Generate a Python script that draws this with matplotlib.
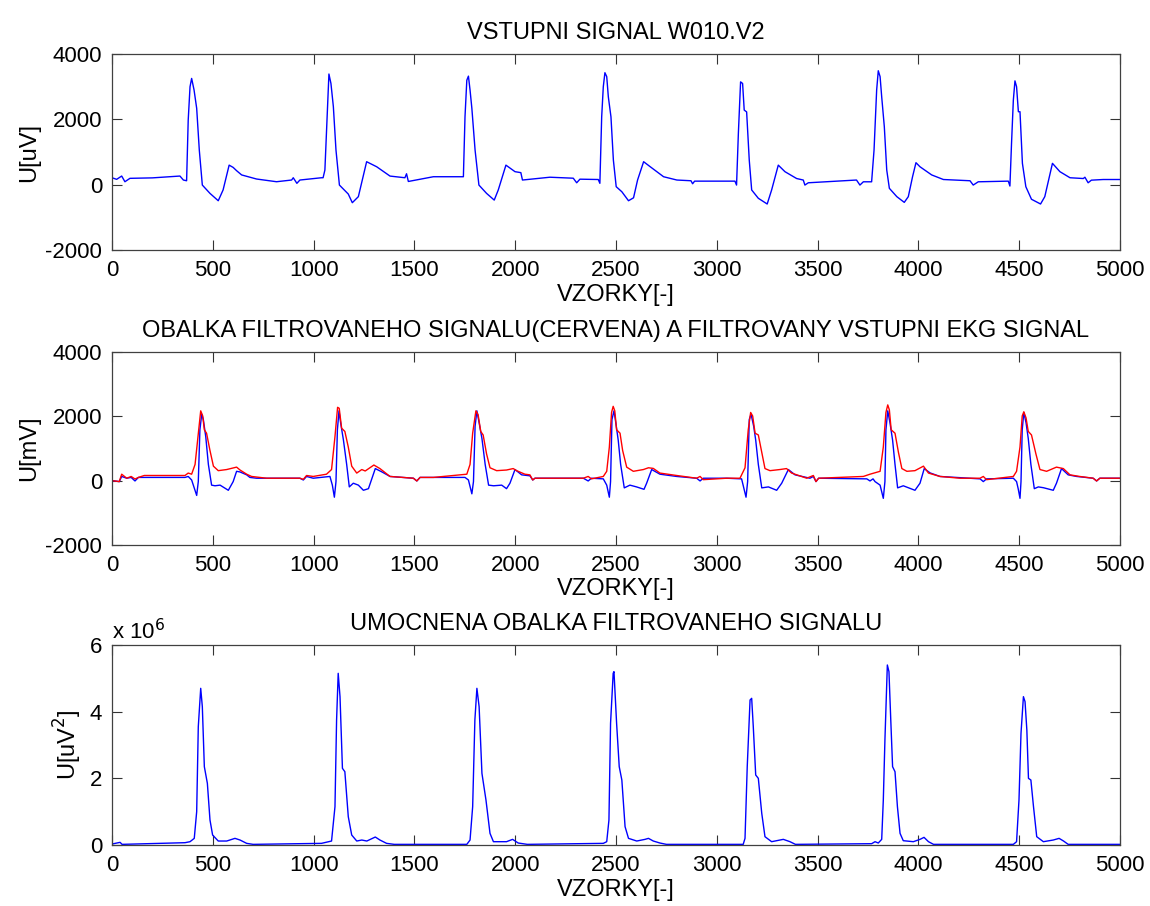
import numpy as np
import matplotlib
matplotlib.use("Agg")
import matplotlib.pyplot as plt

plt.rcParams['font.family'] = ['Liberation Sans', 'DejaVu Sans']
plt.rcParams['font.size'] = 16
plt.rcParams['axes.unicode_minus'] = False

# values (sample index, value)
# input ECG signal, uV
input_pts = [
    (0, 214), (23, 165), (48, 266), (64, 92), (89, 196), (200, 210), (337, 266), (354, 144), (370, 122),
    (378, 1980), (387, 3000), (395, 3255), (407, 2900), (420, 2340), (433, 1060), (448, -10), (486, -265),
    (527, -490), (551, -160), (581, 600), (601, 530), (618, 430), (643, 300), (676, 245), (717, 175),
    (816, 92), (891, 144), (899, 214), (917, 43), (932, 144), (1039, 214), (1047, 214),
    (1056, 450), (1064, 1620), (1076, 3390), (1086, 3100), (1098, 2390), (1111, 1060), (1128, -10),
    (1172, -285), (1192, -550), (1222, -365), (1263, 705), (1313, 550), (1379, 265), (1453, 214),
    (1461, 336), (1470, 100), (1594, 245), (1743, 245),
    (1751, 2080), (1760, 3200), (1768, 3325), (1776, 2900), (1785, 2340), (1801, 1060), (1820, -10),
    (1858, -265), (1896, -470), (1916, -160), (1954, 600), (1999, 400), (2028, 370), (2036, 144),
    (2172, 230), (2288, 200), (2305, 60), (2321, 170), (2412, 160),
    (2420, 43), (2429, 2080), (2437, 3000), (2445, 3430), (2454, 3310), (2462, 2690), (2475, 2080),
    (2487, 755), (2501, -60), (2529, -215), (2562, -490), (2587, -400), (2607, 144), (2637, 705),
    (2670, 550), (2736, 245), (2802, 144), (2872, 122), (2880, 30), (2890, 110), (3090, 110),
    (3098, -10), (3107, 1570), (3118, 3150), (3128, 3100), (3136, 2285), (3148, 2230), (3161, 755),
    (3173, -160), (3206, -415), (3250, -590), (3272, -160), (3305, 600), (3338, 400), (3396, 190),
    (3429, 144), (3437, -10), (3454, 60), (3693, 144), (3710, -10), (3727, 90), (3768, 90),
    (3780, 1060), (3793, 2900), (3801, 3490), (3810, 3310), (3818, 2690), (3831, 1775), (3843, 450),
    (3856, -110), (3893, -365), (3930, -540), (3950, -365), (3971, 245), (3988, 675), (4008, 550),
    (4066, 300), (4124, 160), (4256, 122), (4272, -10), (4297, 90), (4446, 110),
    (4454, -40), (4462, 1265), (4471, 2590), (4479, 3180), (4487, 3000), (4496, 2235), (4504, 2235),
    (4516, 655), (4533, -60), (4561, -445), (4606, -590), (4627, -365), (4665, 655), (4702, 400),
    (4752, 214), (4818, 190), (4826, 230), (4842, 60), (4858, 140), (4917, 160), (5000, 160),
]

# filtered ECG signal (blue, middle)
filt_pts = [
    (0, 0), (36, -30), (48, 130), (73, 75), (95, 100), (114, -10), (131, 100), (362, 100), (378, 130),
    (395, 20), (420, -460), (428, -30), (436, 1580), (445, 2065), (453, 1900), (465, 1365), (478, 505),
    (494, -140), (511, -160), (536, -140), (577, -300), (601, -30), (618, 290), (635, 270), (668, 180),
    (684, 100), (717, 75), (932, 75), (949, 20), (965, 130), (998, 75), (1081, 130),
    (1093, -140), (1103, -515), (1111, -30), (1118, 1580), (1126, 2170), (1134, 1800), (1148, 1260),
    (1164, 505), (1177, -195), (1197, -80), (1222, -140), (1247, -300), (1272, -250), (1306, 375),
    (1339, 270), (1379, 130), (1495, 75), (1512, -10), (1528, 100), (1594, 100), (1751, 100),
    (1768, 20), (1785, -410), (1793, -30), (1801, 1690), (1810, 2170), (1821, 1800), (1835, 1310),
    (1851, 505), (1868, -140), (1893, -160), (1933, -140), (1957, -250), (1974, -80), (1999, 345),
    (2032, 180), (2073, 150), (2087, 20), (2098, 75), (2123, 75), (2338, 75), (2362, -10), (2378, 75),
    (2437, 55),
    (2454, -140), (2467, -515), (2473, -30), (2480, 1900), (2490, 2170), (2499, 1800), (2511, 1260),
    (2523, 505), (2541, -225), (2569, -140), (2602, -195), (2639, -270), (2652, -80), (2677, 345),
    (2718, 200), (2801, 130), (2900, 75), (2917, -10), (2933, 75), (3049, 75), (3123, 55),
    (3135, -250), (3145, -515), (3153, -30), (3161, 1900), (3170, 2065), (3183, 1690), (3193, 1260),
    (3206, 505), (3223, -225), (3256, -195), (3297, -300), (3322, -80), (3355, 345), (3388, 180),
    (3462, 75), (3479, 130), (3492, -30), (3505, 75), (3744, 55), (3760, -10), (3775, 55), (3785, -30),
    (3810, -140), (3826, -550), (3834, -30), (3839, 1580), (3848, 2170), (3859, 1800), (3872, 1260),
    (3884, 505), (3897, -225), (3925, -160), (3983, -300), (4008, -80), (4029, 375), (4058, 240),
    (4107, 130), (4306, 55), (4322, -30), (4338, 55), (4471, 75), (4487, -30),
    (4495, -250), (4504, -550), (4509, -30), (4515, 1580), (4523, 2120), (4534, 1800), (4545, 1310),
    (4558, 505), (4575, -250), (4595, -195), (4620, -220), (4669, -300), (4685, -80), (4710, 375),
    (4743, 180), (4785, 130), (4867, 75), (4884, -10), (4900, 75), (5000, 75),
]

# envelope of filtered signal (red, middle)
env_pts = [
    (0, 0), (36, -30), (48, 200), (73, 75), (95, 130), (114, 50), (131, 100), (160, 160), (362, 160),
    (378, 235), (395, 200), (412, 505), (428, 1475), (440, 2170), (450, 2010), (458, 1580), (469, 1475),
    (486, 935), (503, 450), (527, 310), (569, 345), (618, 420), (635, 330), (668, 200), (692, 130),
    (767, 75), (932, 75), (949, 40), (965, 160), (998, 130), (1064, 200),
    (1089, 345), (1106, 1370), (1119, 2280), (1127, 2250), (1139, 1630), (1155, 1530), (1172, 1045),
    (1189, 450), (1214, 235), (1239, 345), (1256, 300), (1299, 485), (1329, 375), (1379, 130),
    (1495, 75), (1512, -10), (1528, 100), (1594, 100), (1760, 200),
    (1776, 505), (1789, 1475), (1805, 2170), (1816, 2050), (1829, 1530), (1841, 1420), (1858, 830),
    (1875, 400), (1908, 310), (1957, 330), (1990, 375), (2007, 310), (2048, 200), (2073, 180),
    (2087, 20), (2098, 75), (2123, 75), (2338, 75), (2362, 130), (2378, 55), (2437, 130),
    (2454, 290), (2467, 1045), (2478, 2120), (2486, 2310), (2494, 2170), (2503, 1580), (2520, 1475),
    (2533, 935), (2553, 420), (2586, 290), (2636, 345), (2661, 400), (2685, 380), (2718, 235),
    (2801, 160), (2900, 75), (2917, 130), (2933, 30), (3049, 75), (3115, 75),
    (3140, 400), (3156, 1580), (3168, 2120), (3178, 2010), (3190, 1475), (3206, 1420), (3223, 880),
    (3239, 375), (3264, 310), (3313, 345), (3346, 375), (3371, 235), (3446, 75), (3479, 160),
    (3492, -30), (3505, 75), (3727, 130), (3760, 200),
    (3810, 290), (3826, 1045), (3839, 2120), (3848, 2355), (3856, 2200), (3865, 1580), (3884, 1475),
    (3901, 880), (3918, 375), (3943, 290), (3983, 310), (4025, 450), (4050, 235), (4107, 130),
    (4206, 75), (4306, 75), (4322, 130), (4338, 30), (4471, 130),
    (4487, 290), (4504, 1045), (4515, 2010), (4523, 2140), (4534, 1950), (4545, 1530), (4561, 1420),
    (4583, 830), (4603, 345), (4636, 290), (4685, 420), (4719, 375), (4752, 180), (4800, 130),
    (4867, 75), (4884, -10), (4900, 75), (5000, 75),
]

# squared envelope, units of 1e6 uV^2
pow_pts = [
    (0, 0.03), (40, 0.08), (50, 0.02), (362, 0.07), (387, 0.1), (408, 0.2), (420, 1.0), (428, 3.55),
    (440, 4.7), (448, 4.15), (458, 2.35), (473, 1.85), (486, 0.75), (499, 0.3), (527, 0.12), (569, 0.12),
    (610, 0.2), (635, 0.15), (668, 0.05), (700, 0.02), (1039, 0.05),
    (1089, 0.12), (1106, 1.15), (1114, 3.75), (1122, 5.15), (1131, 4.45), (1143, 2.3), (1155, 2.2),
    (1172, 0.85), (1189, 0.3), (1214, 0.12), (1239, 0.15), (1264, 0.12), (1306, 0.24), (1329, 0.15),
    (1362, 0.05), (1400, 0.02),
    (1760, 0.02), (1776, 0.15), (1789, 1.15), (1800, 3.75), (1810, 4.7), (1821, 4.15), (1835, 2.15),
    (1855, 1.35), (1875, 0.35), (1892, 0.1), (1957, 0.1), (1987, 0.17), (2015, 0.06), (2060, 0.02),
    (2437, 0.05), (2454, 0.1), (2465, 0.75), (2473, 3.65), (2486, 5.15), (2490, 5.2), (2503, 3.65),
    (2516, 2.35), (2529, 1.95), (2545, 0.55), (2562, 0.2), (2603, 0.12), (2644, 0.17), (2661, 0.2),
    (2685, 0.12), (2718, 0.06), (2750, 0.02),
    (3131, 0.02), (3140, 0.2), (3151, 2.35), (3165, 4.35), (3173, 4.4), (3181, 3.55), (3193, 2.1),
    (3206, 2.0), (3223, 0.95), (3239, 0.25), (3272, 0.1), (3330, 0.17), (3363, 0.1), (3390, 0.02),
    (3768, 0.04), (3785, 0.1), (3801, 0.06), (3818, 0.17), (3826, 1.35), (3834, 3.15), (3846, 5.4),
    (3854, 5.2), (3863, 3.75), (3872, 2.35), (3884, 2.2), (3896, 1.15), (3909, 0.35), (3925, 0.13),
    (3975, 0.1), (4008, 0.17), (4028, 0.23), (4050, 0.1), (4075, 0.02),
    (4471, 0.02), (4487, 0.1), (4499, 1.35), (4509, 3.35), (4521, 4.45), (4529, 4.3), (4538, 3.45),
    (4546, 2.0), (4558, 1.95), (4571, 1.15), (4587, 0.25), (4620, 0.1), (4669, 0.15), (4698, 0.2),
    (4720, 0.12), (4743, 0.02), (5000, 0.02),
]

x_ticks = list(range(0, 5001, 500))
sig_ticks = [-2000, 0, 2000, 4000]
pow_ticks = [0, 2, 4, 6]

titles = ["VSTUPNI SIGNAL W010.V2",
          "OBALKA FILTROVANEHO SIGNALU(CERVENA) A FILTROVANY VSTUPNI EKG SIGNAL",
          "UMOCNENA OBALKA FILTROVANEHO SIGNALU"]
ylabels = ["U[uV]", "U[mV]", r"U[uV$^2$]"]


def style(ax):
    ax.set_xlim(0, 5000)
    ax.set_xticks(x_ticks)
    ax.tick_params(direction='in', length=7, top=True, right=True, width=0.8, colors='0.2',
                   labelcolor='black', pad=7, labelsize=16)
    for s in ax.spines.values():
        s.set_color('0.25')
        s.set_linewidth(0.9)
    ax.set_xlabel("VZORKY[-]", labelpad=2, fontsize=17)


fig = plt.figure(figsize=(11.5, 9.06), dpi=100)
ax1 = fig.add_axes([0.0974, 0.724, 0.8765, 0.2163])
ax2 = fig.add_axes([0.0974, 0.3985, 0.8765, 0.213])
ax3 = fig.add_axes([0.0974, 0.0673, 0.8765, 0.2208])

a = np.array(input_pts)
ax1.plot(a[:, 0], a[:, 1], color='#0000ff', lw=1)
ax1.set_ylim(-2000, 4000)
ax1.set_yticks(sig_ticks)

b = np.array(filt_pts)
c = np.array(env_pts)
ax2.plot(b[:, 0], b[:, 1], color='#0000ff', lw=1)
ax2.plot(c[:, 0], c[:, 1], color='#ff0000', lw=1)
ax2.set_ylim(-2000, 4000)
ax2.set_yticks(sig_ticks)

d = np.array(pow_pts)
ax3.plot(d[:, 0], d[:, 1], color='#0000ff', lw=1)
ax3.set_ylim(0, 6)
ax3.set_yticks(pow_ticks)
ax3.text(0.0, 1.03, r"x 10$^6$", transform=ax3.transAxes, fontsize=16)

for ax, t, yl in zip([ax1, ax2, ax3], titles, ylabels):
    style(ax)
    ax.set_title(t, fontsize=17, pad=11)
    ax.set_ylabel(yl, labelpad=4, fontsize=17)

fig.savefig("out.png", dpi=100)
